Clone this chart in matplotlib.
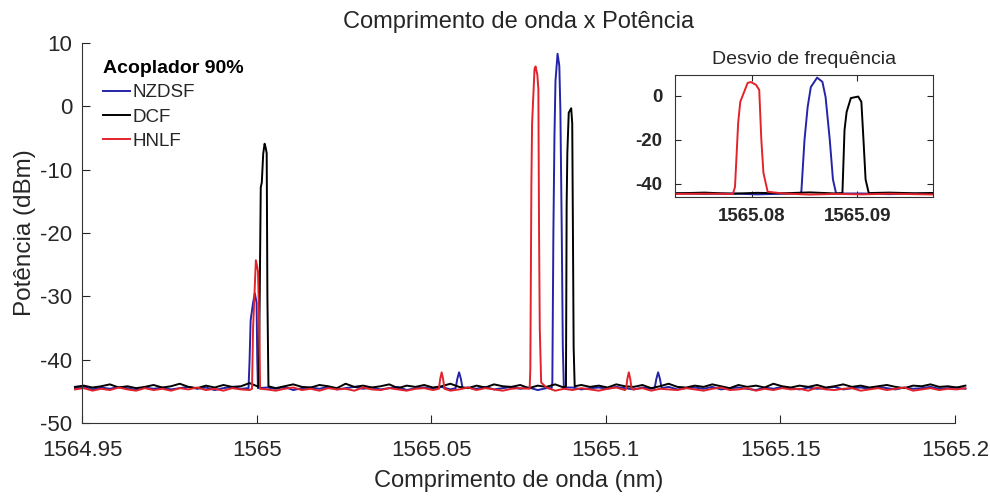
import matplotlib
matplotlib.use('Agg')
import matplotlib.pyplot as plt
import numpy as np

plt.rcParams['font.family'] = ['Liberation Sans', 'DejaVu Sans']
plt.rcParams['axes.unicode_minus'] = False

# --- data ---
series_names = ['NZDSF', 'DCF', 'HNLF']
series_colors = ['#2424a8', '#000000', '#e3232b']

# baseline sampling grid (nm) and noise floor per series (dBm)
base_wl = np.round(np.arange(1564.948, 1565.2031, 0.0025), 4)
base_nzdsf = [-44.5, -44.3, -44.7, -44.4, -44.6, -44.3, -44.5, -44.8, -44.4, -44.6,
              -44.4, -44.7, -44.5, -44.3, -44.6, -44.4, -44.8, -44.5, -44.3, -44.6,
              -44.5, -44.7, -44.4, -44.6, -44.3, -44.8, -44.5, -44.4, -44.6, -44.3,
              -44.7, -44.5, -44.3, -44.6, -44.4, -44.7, -44.5, -44.3, -44.8, -44.5,
              -44.4, -44.6, -44.3, -44.7, -44.5, -44.4, -44.6, -44.3, -44.7, -44.5,
              -44.3, -44.6, -44.4, -44.8, -44.5, -44.3, -44.6, -44.4, -44.7, -44.5,
              -44.4, -44.6, -44.3, -44.5, -44.7, -44.4, -44.6, -44.5, -44.3, -44.7,
              -44.5, -44.4, -44.6, -44.3, -44.7, -44.5, -44.4, -44.6, -44.8, -44.4,
              -44.6, -44.3, -44.5, -44.7, -44.4, -44.6, -44.5, -44.3, -44.7, -44.5,
              -44.4, -44.6, -44.3, -44.5, -44.7, -44.4, -44.6, -44.5, -44.3, -44.6,
              -44.5, -44.4, -44.6]
base_dcf = [-44.3, -44.1, -44.4, -44.2, -43.9, -44.4, -44.2, -44.5, -44.3, -44.0,
            -44.4, -44.2, -43.8, -44.3, -44.5, -44.1, -44.4, -44.0, -44.3, -44.2,
            -43.7, -44.4, -44.1, -44.5, -44.2, -43.9, -44.3, -44.4, -44.0, -44.2,
            -44.5, -43.8, -44.3, -44.1, -44.4, -44.2, -43.9, -44.5, -44.1, -44.3,
            -44.0, -44.4, -44.2, -43.8, -44.3, -44.5, -44.1, -44.4, -43.9, -44.2,
            -44.3, -44.0, -44.5, -44.1, -44.3, -43.9, -44.4, -44.2, -44.0, -44.3,
            -44.1, -44.4, -43.9, -44.2, -44.3, -44.0, -44.5, -44.2, -43.8, -44.3,
            -44.4, -44.1, -44.3, -43.9, -44.2, -44.5, -44.0, -44.3, -44.1, -44.4,
            -43.8, -44.2, -44.4, -44.1, -44.3, -44.0, -44.4, -44.2, -43.9, -44.3,
            -44.1, -44.4, -44.2, -44.0, -44.3, -44.5, -44.1, -44.2, -43.9, -44.3,
            -44.2, -44.4, -44.1]
base_hnlf = [-44.7, -44.5, -44.9, -44.6, -44.8, -44.4, -44.7, -44.9, -44.5, -44.8,
             -44.6, -44.9, -44.5, -44.7, -44.4, -44.8, -44.6, -44.9, -44.5, -44.7,
             -44.8, -44.5, -44.7, -44.9, -44.6, -44.4, -44.8, -44.6, -44.9, -44.5,
             -44.7, -44.6, -44.9, -44.4, -44.7, -44.8, -44.5, -44.7, -44.9, -44.6,
             -44.5, -44.8, -44.6, -44.9, -44.7, -44.4, -44.8, -44.5, -44.7, -44.9,
             -44.6, -44.5, -44.8, -44.7, -44.4, -44.9, -44.6, -44.8, -44.5, -44.7,
             -44.9, -44.6, -44.4, -44.8, -44.7, -44.5, -44.9, -44.6, -44.7, -44.8,
             -44.5, -44.7, -44.9, -44.6, -44.4, -44.8, -44.7, -44.5, -44.9, -44.6,
             -44.8, -44.5, -44.7, -44.6, -44.9, -44.4, -44.7, -44.8, -44.6, -44.5,
             -44.9, -44.7, -44.5, -44.8, -44.6, -44.4, -44.9, -44.7, -44.5, -44.8,
             -44.6, -44.7, -44.5]

# peaks: (wavelength nm, power dBm)
peaks_nzdsf = [
    [(1564.9977, -44.5), (1564.9980, -40.0), (1564.9983, -33.8), (1564.9990, -31.0),
     (1564.9995, -29.5), (1565.0000, -31.0), (1565.0002, -40.0), (1565.0004, -44.5)],
    [(1565.0570, -44.5), (1565.0575, -43.0), (1565.0580, -42.0), (1565.0585, -43.0),
     (1565.0590, -44.5)],
    [(1565.0845, -44.5), (1565.0847, -43.6), (1565.0850, -20.0), (1565.0853, -5.0),
     (1565.0856, 4.0), (1565.0862, 8.3), (1565.0867, 6.4), (1565.0870, -0.5),
     (1565.0874, -20.0), (1565.0877, -38.0), (1565.0880, -44.4)],
    [(1565.1140, -44.5), (1565.1145, -43.0), (1565.1150, -42.0), (1565.1155, -43.0),
     (1565.1160, -44.5)],
]
peaks_dcf = [
    [(1565.0006, -44.3), (1565.0009, -30.0), (1565.0012, -12.8), (1565.0015, -12.0),
     (1565.0019, -7.5), (1565.0023, -5.9), (1565.0026, -6.5), (1565.0029, -7.4),
     (1565.0031, -30.0), (1565.0034, -44.2)],
    [(1565.0886, -44.2), (1565.0887, -30.0), (1565.0888, -15.5), (1565.0890, -7.3),
     (1565.0894, -1.0), (1565.0901, -0.3), (1565.0904, -2.7), (1565.0906, -20.0),
     (1565.0908, -38.0), (1565.0911, -44.2)],
]
peaks_hnlf = [
    [(1564.9987, -44.6), (1564.9990, -35.0), (1564.9998, -24.3), (1565.0004, -26.0),
     (1565.0008, -35.0), (1565.0010, -44.6)],
    [(1565.0522, -44.6), (1565.0526, -43.0), (1565.0530, -42.0), (1565.0534, -43.0),
     (1565.0538, -44.6)],
    [(1565.0782, -44.6), (1565.0784, -41.4), (1565.0787, -12.3), (1565.0789, -2.7),
     (1565.0796, 5.9), (1565.0799, 6.3), (1565.0804, 5.0), (1565.0807, 2.7),
     (1565.0809, -20.0), (1565.0811, -35.0), (1565.0815, -43.6)],
    [(1565.1058, -44.6), (1565.1062, -43.0), (1565.1066, -42.0), (1565.1070, -43.0),
     (1565.1074, -44.6)],
]

x_ticks = [1564.95, 1565.0, 1565.05, 1565.1, 1565.15, 1565.2]
x_tick_labels = ['1564.95', '1565', '1565.05', '1565.1', '1565.15', '1565.2']
y_ticks = [-50, -40, -30, -20, -10, 0, 10]
inset_x_ticks = [1565.08, 1565.09]
inset_x_labels = ['1565.08', '1565.09']
inset_y_ticks = [-40, -20, 0]


def build(base, peaks):
    pts = []
    for w, v in zip(base_wl, base):
        if not any(p[0][0] - 0.0003 <= w <= p[-1][0] + 0.0003 for p in peaks):
            pts.append((w, v))
    for p in peaks:
        pts.extend(p)
    pts.sort()
    return np.array(pts)


curves = [build(base_nzdsf, peaks_nzdsf),
          build(base_dcf, peaks_dcf),
          build(base_hnlf, peaks_hnlf)]

TXT = '#262626'

fig = plt.figure(figsize=(9.9, 4.96), dpi=100, facecolor='white')
ax = fig.add_axes([0.0828, 0.1472, 0.8818, 0.7661])

for c, name, col in zip(curves, series_names, series_colors):
    ax.plot(c[:, 0], c[:, 1], color=col, lw=1.4, label=name, clip_on=False)

ax.set_xlim(1564.95, 1565.2)
ax.set_ylim(-50, 10)
ax.set_xticks(x_ticks)
ax.set_xticklabels(x_tick_labels)
ax.set_yticks(y_ticks)
ax.tick_params(direction='in', length=6, labelsize=16, colors=TXT)
ax.tick_params(axis='x', pad=12)
ax.tick_params(axis='y', pad=7)
for s in ['top', 'right']:
    ax.spines[s].set_visible(False)
for s in ['left', 'bottom']:
    ax.spines[s].set_color('#333333')
ax.set_xlabel('Comprimento de onda (nm)', fontsize=17, color=TXT, labelpad=7)
ax.set_ylabel('Potência (dBm)', fontsize=17.5, color=TXT, labelpad=3)
ax.set_title('Comprimento de onda x Potência', fontsize=17, color=TXT, pad=11)

leg = ax.legend(loc='upper left', bbox_to_anchor=(0.024, 0.955), frameon=False,
                fontsize=13.5, title='Acoplador 90%', handlelength=1.45,
                handletextpad=0.15, labelspacing=0.38, borderaxespad=0.0,
                borderpad=0.0)
leg.get_title().set_fontweight('bold')
leg.get_title().set_fontsize(14)
leg._legend_box.align = 'left'
for t in leg.get_texts():
    t.set_color(TXT)

# inset zoom
axi = fig.add_axes([0.6818, 0.6028, 0.2606, 0.246])
for c, col in zip(curves, series_colors):
    axi.plot(c[:, 0], c[:, 1], color=col, lw=1.4)
axi.set_xlim(1565.0727, 1565.0972)
axi.set_ylim(-46, 9.5)
axi.set_xticks(inset_x_ticks)
axi.set_xticklabels(inset_x_labels)
axi.set_yticks(inset_y_ticks)
axi.tick_params(direction='in', length=4, labelsize=13.5, colors=TXT,
                top=True, right=True)
axi.tick_params(axis='x', pad=8)
axi.tick_params(axis='y', pad=9)
for t in axi.get_xticklabels() + axi.get_yticklabels():
    t.set_fontweight('bold')
for s in axi.spines.values():
    s.set_color('#333333')
axi.set_title('Desvio de frequência', fontsize=14, color=TXT, pad=8)

fig.savefig('out.png', dpi=100, facecolor='white')
